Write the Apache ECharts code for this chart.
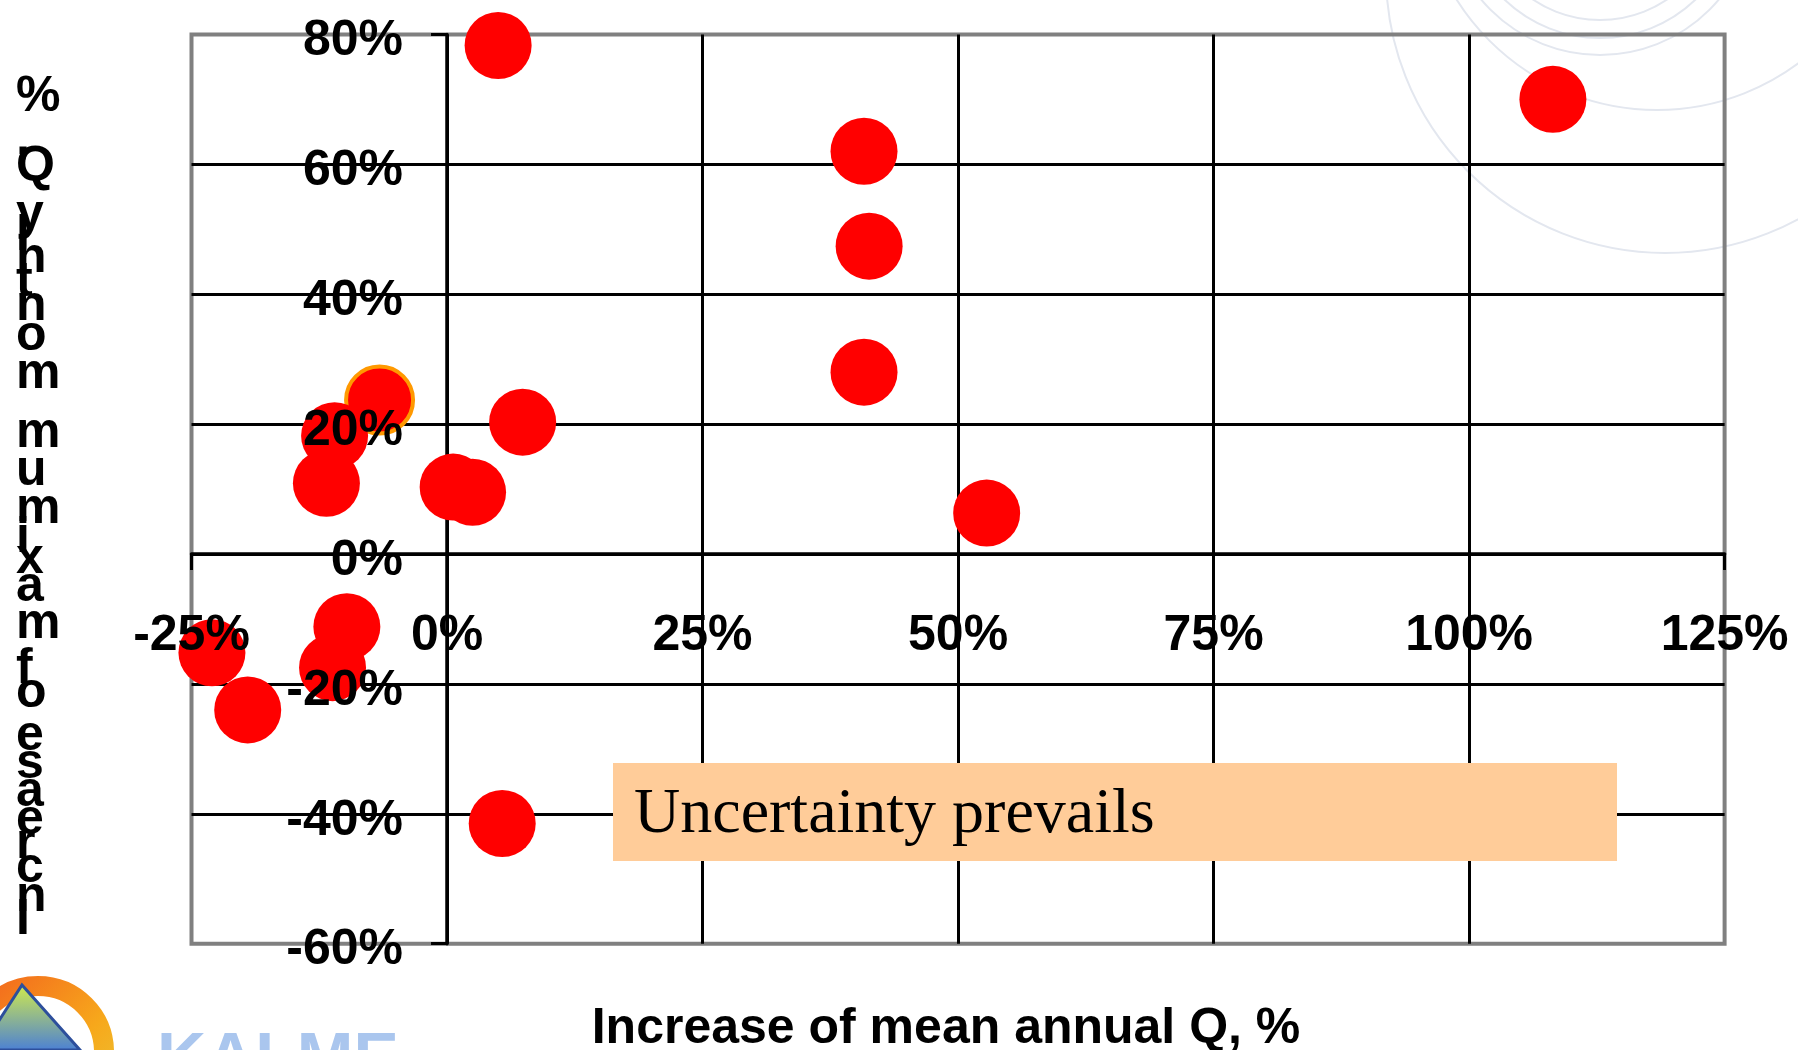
<!DOCTYPE html>
<html>
<head>
<meta charset="utf-8">
<script src="https://cdn.jsdelivr.net/npm/echarts@6/dist/echarts.min.js"></script>
<style>
html, body { margin: 0; padding: 0; background: #fff; }
#chart { width: 1798px; height: 1050px; }
</style>
</head>
<body>
<div id="chart"></div>
<script>
// values, in %
var xVals = [5.0, 108.2, 40.8, 41.3, 40.8, -6.6, 7.4, -11.0, -11.8, 0.6, 2.5, 52.8, -9.8, -11.2, -23.0, -19.5, 5.4]
var yVals = [78.3, 70.0, 62.0, 47.4, 28.0, 23.7, 20.3, 18.2, 10.9, 10.3, 9.5, 6.3, -11.2, -17.5, -15.2, -24.0, -41.5]
var outlinedPoints = [5] // the one with an orange rim
var xTicks = [-25, 0, 25, 50, 75, 100, 125]
var yTicks = [-60, -40, -20, 0, 20, 40, 60, 80]
var xTitle = 'Increase of mean annual Q, %'
var yTitle = 'Increase of maximum monthly Q, %'
var noteText = 'Uncertainty prevails'

var W = 1798, H = 1050
var gridBox = { left: 191.5, right: 73.4, top: 34.4, bottom: 106.3, outerBoundsMode: 'none' }
// the label grid sits a few px lower: the y labels hang a little under their lines
var labelDrop = 7
var labelBox = { left: gridBox.left, right: gridBox.right, top: gridBox.top + labelDrop, bottom: gridBox.bottom - labelDrop, outerBoundsMode: 'none' }
var boldFont = 'bold 50px "Liberation Sans", Arial, sans-serif'

var xMin = xTicks[0], xMax = xTicks[xTicks.length - 1]
var yMin = yTicks[0], yMax = yTicks[yTicks.length - 1]
// label axes are shifted from the grid edge to the zero lines
var plotW = W - gridBox.left - gridBox.right
var plotH = H - gridBox.top - gridBox.bottom
var xLabelShift = -(0 - yMin) / (yMax - yMin) * plotH
var yLabelShift = -(0 - xMin) / (xMax - xMin) * plotW

var points = xVals.map(function (x, i) {
  var p = { value: [x, yVals[i]] }
  if (outlinedPoints.indexOf(i) >= 0) {
    p.itemStyle = { borderColor: '#FF9900', borderWidth: 4 }
  }
  return p
})

// y title: upright letters stacked bottom to top
var ctx = document.createElement('canvas').getContext('2d')
ctx.font = boldFont
var chars = yTitle.split('')
var widths = chars.map(function (c) { return ctx.measureText(c).width })
var span = 0
for (var i = 0; i < chars.length - 1; i++) span += (widths[i] + widths[i + 1]) / 2
var k = (920 - 97) / span
var graphics = []
var cy = 920
chars.forEach(function (c, i) {
  if (i > 0) cy -= (widths[i - 1] + widths[i]) / 2 * k
  if (c === ' ') return
  graphics.push({
    type: 'text', x: 16, y: cy, z: 20,
    style: { text: c, font: boldFont, fill: '#000', textAlign: 'left', textVerticalAlign: 'middle' }
  })
})

// x title
graphics.push({
  type: 'text', x: 946, y: 1029, z: 20,
  style: { text: xTitle, font: boldFont, fill: '#000', textAlign: 'center', textVerticalAlign: 'middle' }
})

// note box
graphics.push({
  type: 'rect', z: 10,
  shape: { x: 613, y: 763, width: 1004, height: 98 },
  style: { fill: '#FFCC99' }
})
graphics.push({
  type: 'text', x: 634, y: 815, z: 11,
  style: { text: noteText, font: '64px "Liberation Serif", "Times New Roman", serif', fill: '#000', textAlign: 'left', textVerticalAlign: 'middle' }
})

// faint watermark rings top right
var rings = [[1665, -26, 279], [1657, -127, 237], [1600, -100, 120], [1600, -100, 138], [1600, -100, 155]]
rings.forEach(function (r) {
  graphics.push({
    type: 'circle', z: -10, silent: true,
    shape: { cx: r[0], cy: r[1], r: r[2] },
    style: { fill: 'none', stroke: '#e3e7ef', lineWidth: 2 }
  })
})

// logo bottom left
graphics.push({
  type: 'circle', z: 1,
  shape: { cx: 38, cy: 1052, r: 66 },
  style: {
    fill: 'none', lineWidth: 20,
    stroke: new echarts.graphic.LinearGradient(0, 0, 1, 1, [
      { offset: 0, color: '#f25c1e' }, { offset: 0.6, color: '#f7a81b' }, { offset: 1, color: '#e8c93a' }
    ])
  }
})
graphics.push({
  type: 'polygon', z: 2,
  shape: { points: [[22, 985], [80, 1050], [-20, 1050]] },
  style: {
    stroke: '#2d4f9c', lineWidth: 3,
    fill: new echarts.graphic.LinearGradient(0, 0, 0, 1, [
      { offset: 0, color: '#d3ec4a' }, { offset: 1, color: '#4a7fd6' }
    ])
  }
})
graphics.push({
  type: 'text', x: 157, y: 1061, z: 2,
  style: { text: 'KALME', font: 'bold 68px "Liberation Sans", Arial, sans-serif', fill: '#aac6ee', textAlign: 'left', textVerticalAlign: 'middle' }
})

var labelStyle = {
  color: '#000', fontSize: 50, fontWeight: 'bold', fontFamily: '"Liberation Sans", Arial, sans-serif',
  formatter: '{value}%', showMinLabel: true, showMaxLabel: true
}

var myChart = echarts.init(document.getElementById('chart'))
var option = {
  backgroundColor: '#fff',
  animation: false,
  grid: [
    // grid 0: border, grid lines, axis lines, dots
    Object.assign({ show: true, borderColor: '#808080', borderWidth: 4, backgroundColor: 'transparent' }, gridBox),
    // grid 1: only the tick labels, drawn over the dots
    Object.assign({ show: false }, labelBox)
  ],
  xAxis: [
    {
      type: 'value', gridIndex: 0, position: 'bottom', z: 0,
      min: xMin, max: xMax, interval: xTicks[1] - xTicks[0],
      axisLine: { show: true, onZero: true, lineStyle: { color: '#000', width: 3.5 } },
      axisTick: { show: true, length: 16, lineStyle: { color: '#000', width: 3 } },
      axisLabel: { show: false },
      splitLine: { show: true, showMinLine: false, showMaxLine: false, lineStyle: { color: '#000', width: 3 } }
    },
    {
      type: 'value', gridIndex: 1, position: 'bottom', z: 5, offset: xLabelShift,
      min: xMin, max: xMax, interval: xTicks[1] - xTicks[0],
      axisLine: { show: false, onZero: false },
      axisTick: { show: false },
      axisLabel: Object.assign({ margin: 57 - labelDrop }, labelStyle),
      splitLine: { show: false }
    }
  ],
  yAxis: [
    {
      type: 'value', gridIndex: 0, position: 'left', z: 0,
      min: yMin, max: yMax, interval: yTicks[1] - yTicks[0],
      axisLine: { show: true, onZero: true, lineStyle: { color: '#000', width: 3.5 } },
      axisTick: { show: true, length: 16, lineStyle: { color: '#000', width: 3 } },
      axisLabel: { show: false },
      splitLine: { show: true, showMinLine: false, showMaxLine: false, lineStyle: { color: '#000', width: 3 } }
    },
    {
      type: 'value', gridIndex: 1, position: 'left', z: 5, offset: yLabelShift,
      min: yMin, max: yMax, interval: yTicks[1] - yTicks[0],
      axisLine: { show: false, onZero: false },
      axisTick: { show: false },
      axisLabel: Object.assign({ margin: 44 }, labelStyle),
      splitLine: { show: false }
    }
  ],
  series: [
    {
      type: 'scatter',
      xAxisIndex: 0,
      yAxisIndex: 0,
      z: 2,
      symbol: 'circle',
      symbolSize: 67,
      itemStyle: { color: '#FF0000', opacity: 1 },
      emphasis: { disabled: true },
      data: points
    }
  ],
  graphic: graphics
}
myChart.setOption(option)
</script>
</body>
</html>
